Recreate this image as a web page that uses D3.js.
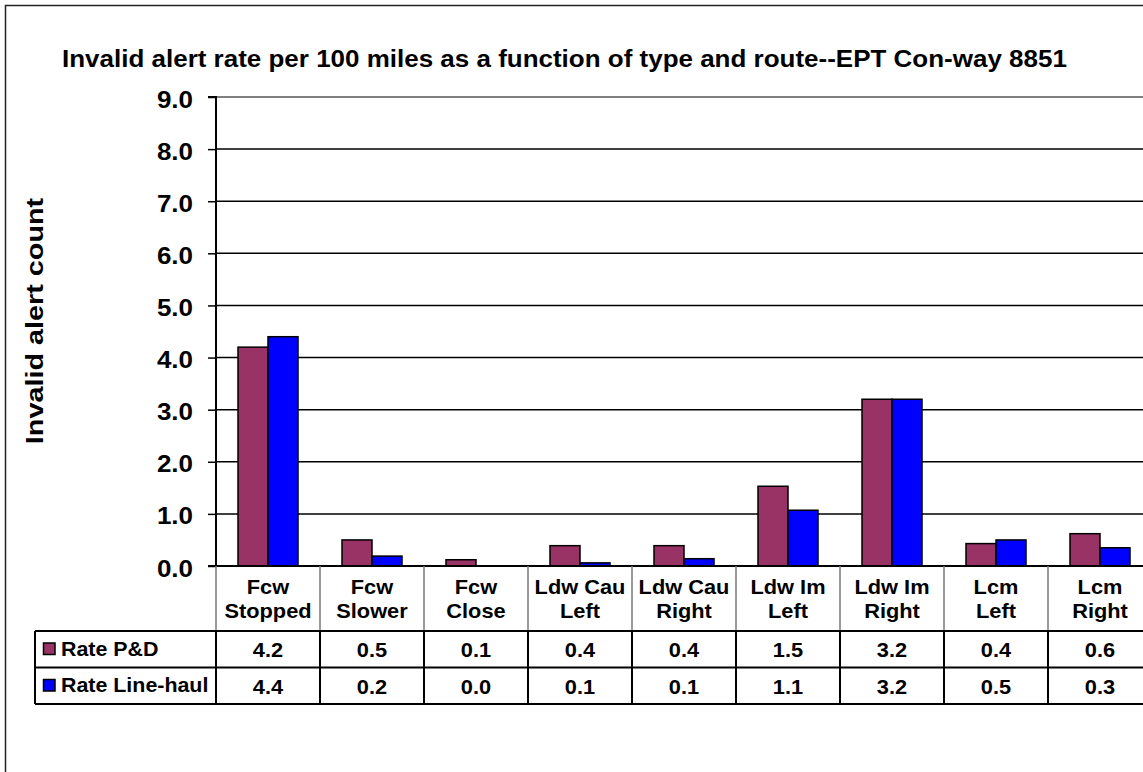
<!DOCTYPE html>
<html>
<head>
<meta charset="utf-8">
<script src="https://cdn.jsdelivr.net/npm/d3@7/dist/d3.min.js"></script>
<style>
  html, body { margin: 0; padding: 0; background: #fff; }
  svg { display: block; font-family: "Liberation Sans", Arial, sans-serif; font-weight: bold; }
</style>
</head>
<body>
<svg id="chart" width="1143" height="772"></svg>
<script>
// ---- data ----
const title = "Invalid alert rate per 100 miles as a function of type and route--EPT Con-way 8851";
const yLabel = "Invalid alert count";
const categories = [
  ["Fcw", "Stopped"], ["Fcw", "Slower"], ["Fcw", "Close"],
  ["Ldw Cau", "Left"], ["Ldw Cau", "Right"], ["Ldw Im", "Left"],
  ["Ldw Im", "Right"], ["Lcm", "Left"], ["Lcm", "Right"]
];
const seriesNames = ["Rate P&D", "Rate Line-haul"];
const ratePD = [4.2, 0.5, 0.12, 0.39, 0.39, 1.53, 3.2, 0.43, 0.62];
const rateLineHaul = [4.4, 0.19, 0.0, 0.06, 0.14, 1.07, 3.2, 0.5, 0.35];
const seriesColors = ["#993366", "#0000FF"];
const yTicks = [0, 1, 2, 3, 4, 5, 6, 7, 8, 9];

const series = [ratePD, rateLineHaul];
const catKeys = categories.map(c => c.join(" "));

// ---- layout ----
const svg = d3.select("#chart");
const plotLeft = 216, plotRight = 1152, plotTop = 97, plotBottom = 566;
const tableLeft = 35, headerBottom = 631, rowH = 36.5;

const x = d3.scaleBand().domain(catKeys).range([plotLeft, plotRight]).padding(0);
const xs = d3.scaleBand().domain(seriesNames).range([0, x.bandwidth()]).paddingInner(0).paddingOuter(0.733);
const y = d3.scaleLinear().domain([0, 9]).range([plotBottom, plotTop]);

// outer frame
svg.append("rect").attr("x", 5.5).attr("y", 5.5).attr("width", 1200).attr("height", 800)
  .attr("fill", "none").attr("stroke", "#222").attr("stroke-width", 1.5);

// title
svg.append("text").attr("transform", `translate(62,67) scale(1.13,1)`)
  .attr("font-size", 23).attr("fill", "#000")
  .text(title);

// gridlines
svg.append("g").selectAll("line").data(yTicks.filter(t => t > 0)).join("line")
  .attr("x1", plotLeft).attr("x2", plotRight)
  .attr("y1", d => y(d)).attr("y2", d => y(d))
  .attr("stroke", d => d === 9 ? "#808080" : "#000")
  .attr("stroke-width", d => d === 9 ? 2 : 1.5);

// y axis
const yAxis = svg.append("g").attr("transform", `translate(${plotLeft},0)`)
  .call(d3.axisLeft(y).tickValues(yTicks).tickFormat(d3.format(".1f")).tickSize(8).tickPadding(15));
yAxis.select(".domain").attr("stroke", "#000").attr("stroke-width", 2).attr("d", `M-8,${plotTop}H0V${plotBottom}H-8`);
yAxis.selectAll(".tick line").attr("stroke", "#000").attr("stroke-width", 1.5);
yAxis.selectAll(".tick text").attr("font-size", 23).attr("font-weight", "bold")
  .attr("font-family", "Liberation Sans, Arial, sans-serif").attr("fill", "#000")
  .attr("x", 0).attr("dy", null).attr("y", 0)
  .attr("transform", "translate(-23,10) scale(1.13,1)");

// y label
svg.append("text").attr("transform", `translate(43,321) rotate(-90) scale(1.2,1)`)
  .attr("text-anchor", "middle").attr("font-size", 24)
  .text(yLabel);

// bars
const groups = svg.append("g").selectAll("g").data(catKeys).join("g")
  .attr("transform", d => `translate(${x(d)},0)`);
groups.selectAll("rect").data((d, i) => seriesNames.map((s, j) => ({ s, v: series[j][i], j })))
  .join("rect")
  .filter(d => d.v > 0)
  .attr("x", d => xs(d.s)).attr("width", xs.bandwidth())
  .attr("y", d => y(d.v)).attr("height", d => y(0) - y(d.v))
  .attr("fill", d => seriesColors[d.j]).attr("stroke", "#000").attr("stroke-width", 1.5);

// baseline
svg.append("line").attr("x1", plotLeft).attr("x2", plotRight).attr("y1", y(0)).attr("y2", y(0))
  .attr("stroke", "#000").attr("stroke-width", 2);

// ---- data table ----
const tbl = svg.append("g");
tbl.selectAll("line.hv").data(d3.range(catKeys.length + 1)).join("line").attr("class", "hv")
  .attr("x1", i => plotLeft + i * x.step()).attr("x2", i => plotLeft + i * x.step())
  .attr("y1", plotBottom).attr("y2", headerBottom)
  .attr("stroke", "#777").attr("stroke-width", 1.5);
tbl.selectAll("line.rv").data(d3.range(catKeys.length + 1)).join("line").attr("class", "rv")
  .attr("x1", i => plotLeft + i * x.step()).attr("x2", i => plotLeft + i * x.step())
  .attr("y1", headerBottom).attr("y2", headerBottom + 2 * rowH)
  .attr("stroke", "#000").attr("stroke-width", 2);
tbl.append("line").attr("x1", tableLeft).attr("x2", tableLeft)
  .attr("y1", headerBottom).attr("y2", headerBottom + 2 * rowH).attr("stroke", "#000").attr("stroke-width", 2);
tbl.selectAll("line.hr").data([0, 1, 2]).join("line").attr("class", "hr")
  .attr("x1", tableLeft).attr("x2", plotRight)
  .attr("y1", i => headerBottom + i * rowH).attr("y2", i => headerBottom + i * rowH)
  .attr("stroke", "#000").attr("stroke-width", 2);

const SX = 1.09;
const cx = i => x(catKeys[i]) + x.bandwidth() / 2;
const hdr = tbl.selectAll("text.hdr").data(categories).join("text").attr("class", "hdr")
  .attr("text-anchor", "middle").attr("font-size", 20)
  .attr("transform", (d, i) => `translate(${cx(i)},593.5) scale(${SX},1)`);
hdr.append("tspan").attr("x", 0).text(d => d[0]);
hdr.append("tspan").attr("x", 0).attr("dy", 24.5).text(d => d[1]);

series.forEach((vals, j) => {
  tbl.selectAll(`text.v${j}`).data(vals).join("text").attr("class", `v${j}`)
    .attr("text-anchor", "middle").attr("font-size", 20)
    .attr("transform", (d, i) => `translate(${cx(i)},${headerBottom + j * rowH + 26}) scale(${SX},1)`)
    .text(d => d.toFixed(1));
  tbl.append("rect").attr("x", 43.5).attr("y", headerBottom + j * rowH + 12)
    .attr("width", 11.5).attr("height", 11.5)
    .attr("fill", seriesColors[j]).attr("stroke", "#000").attr("stroke-width", 1.5);
  tbl.append("text")
    .attr("transform", `translate(61,${headerBottom + j * rowH + 24.5}) scale(1.07,1)`)
    .attr("font-size", 20).text(seriesNames[j]);
});
</script>
</body>
</html>
